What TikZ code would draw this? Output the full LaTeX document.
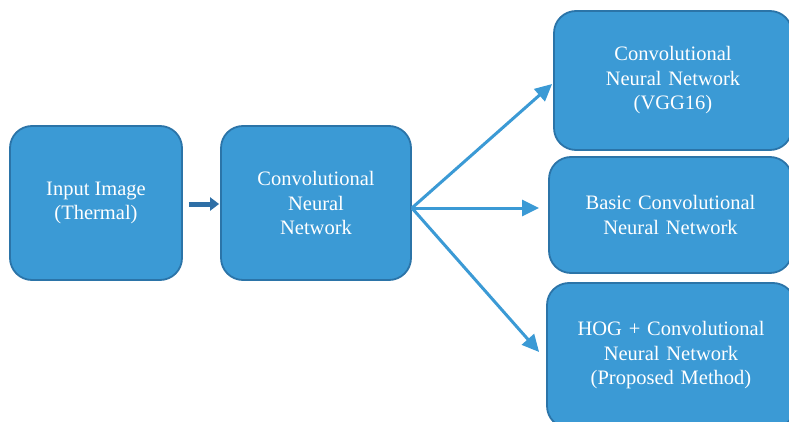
\documentclass[tikz,border=0pt]{standalone}
\usepackage{fontspec}
\setmainfont{Liberation Serif}
\usetikzlibrary{arrows.meta,calc}
\definecolor{boxfill}{HTML}{3B9AD5}
\definecolor{boxedge}{HTML}{2B74A8}
\definecolor{fanblue}{HTML}{3B9AD5}
\definecolor{darkarrow}{HTML}{2E6FA6}
\tikzset{
  blk/.style={draw=boxedge, line width=1.8pt, fill=boxfill, rounded corners=22pt,
    text=white, align=center, inner sep=0pt,
    font=\fontsize{20.5pt}{24.5pt}\selectfont},
  fanarrow/.style={draw=fanblue, line width=3pt, -{Triangle[length=17pt,width=16pt]}},
  firstarrow/.style={draw=darkarrow, line width=5pt, -{Triangle[length=9pt,width=13pt]}}
}
\begin{document}
\begin{tikzpicture}[x=1pt,y=-1pt]
\useasboundingbox (0,0) rectangle (789,422);
\fill[white] (0,0) rectangle (789,422);
\clip (0,0) rectangle (789,422);
\node[blk, minimum width=172pt, minimum height=154pt] (in) at (96,203) {Input Image\\(Thermal)};
\node[blk, minimum width=190pt, minimum height=154pt] (cnn) at (316,203) {Convolutional\\Neural\\Network};
\node[blk, minimum width=238pt, minimum height=139pt, text width=238pt] (vgg) at (673,80.5) {Convolutional\\Neural Network\\(VGG16)};
\node[blk, minimum width=243pt, minimum height=116pt, text width=243pt] (basic) at (670.5,215) {Basic Convolutional\\Neural Network};
\node[blk, minimum width=248pt, minimum height=145pt, text width=248pt] (hog) at (671,355.5) {HOG + Convolutional\\Neural Network\\(Proposed Method)};
\coordinate (fan) at ($(cnn.east)+(0,5)$);
\coordinate (a1s) at ($(in.east)+(6,1)$);
\coordinate (a1e) at ($(cnn.west)+(-1,1)$);
\draw[firstarrow] (a1s) -- (a1e);
\draw[fanarrow] (fan) -- ($(vgg.west)+(-1,3.5)$);
\draw[fanarrow] (fan) -- ($(basic.west)+(-9,-7)$);
\draw[fanarrow] (fan) -- ($(hog.west)+(-7,-3.5)$);
\end{tikzpicture}
\end{document}
